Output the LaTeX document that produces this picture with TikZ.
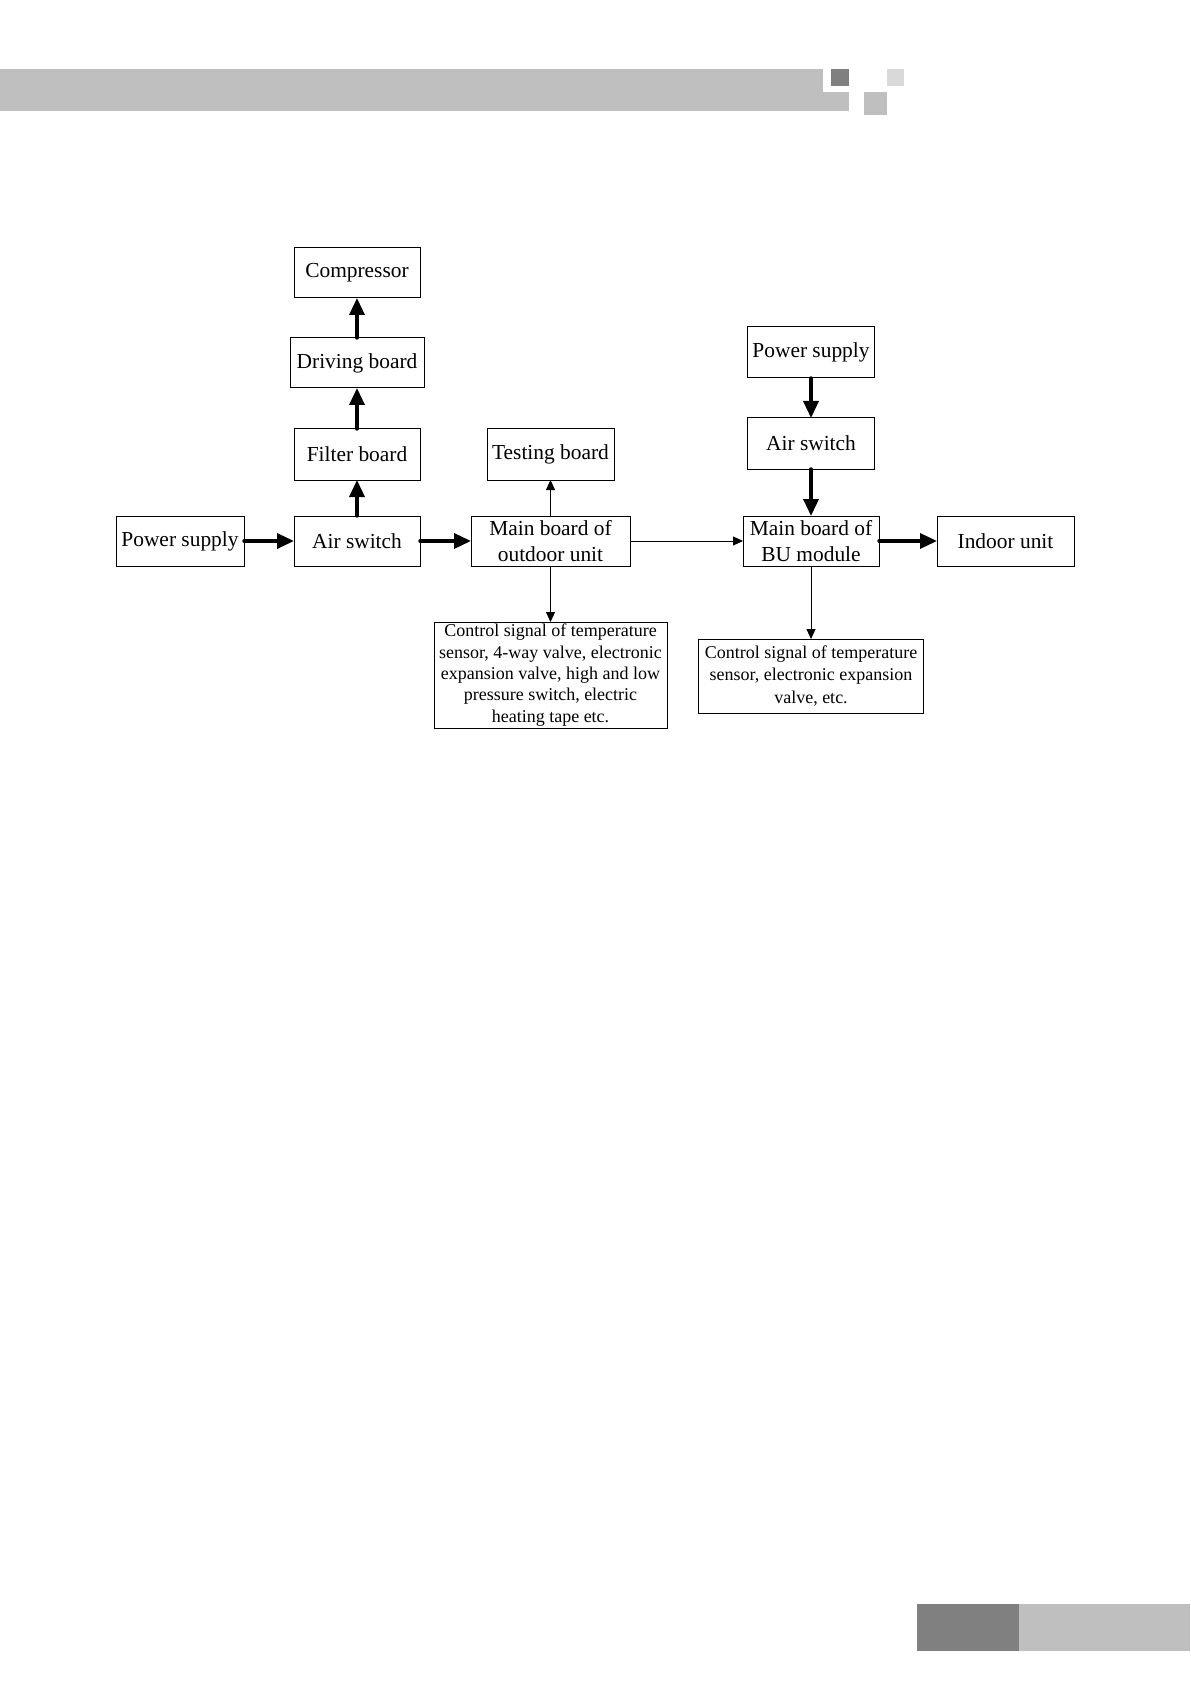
\documentclass[tikz,border=0pt]{standalone}
\usepackage{fontspec}
\setmainfont{Liberation Serif}
\usepackage{xcolor}
\usetikzlibrary{arrows.meta,positioning}
\definecolor{bargray}{HTML}{BFBFBF}
\definecolor{bardark}{HTML}{808080}
\definecolor{barlight}{HTML}{D9D9D9}

\begin{document}
\begin{tikzpicture}[x=0.5pt,y=-0.5pt,
    box/.style={draw,line width=0.5pt,inner sep=1pt,outer sep=0pt,minimum height=25pt,align=center,
      font=\fontsize{10.7}{12.9}\selectfont},
    ctrlbox/.style={draw,line width=0.5pt,inner sep=1pt,outer sep=0pt,align=center,
      font=\fontsize{9}{10.7}\selectfont},
    power/.style={line width=1.7pt,line cap=round,-{Triangle[length=8.5pt,width=7.5pt]}},
    signal/.style={line width=0.5pt,-{Triangle[length=5pt,width=4.5pt]}}]
  \useasboundingbox (0,0) rectangle (1190,1684);
  % page header and footer
  \fill[bargray] (0,69) rectangle (849,111);
  \fill[white] (823,69) rectangle (849,92);
  \fill[bardark] (831,69) rectangle (849,86);
  \fill[bargray] (864,92) rectangle (887,115);
  \fill[barlight] (887,69) rectangle (904,86);
  \fill[bardark] (917,1604) rectangle (1019,1651);
  \fill[bargray] (1019,1604) rectangle (1190,1651);

  % outdoor side
  \node[box,minimum width=64pt] (supply) at (180,541) {Power supply};
  \node[box,right=25pt of supply,minimum width=63pt] (air) {Air switch};
  \node[box,above=18pt of air,minimum width=63pt,minimum height=25.5pt] (filter) {Filter board};
  \node[box,above=20.5pt of filter,minimum width=67pt] (driving) {Driving board};
  \node[box,above=20pt of driving,minimum width=63pt] (comp) {Compressor};
  \node[box,right=25.5pt of air,minimum width=79.5pt] (outmain) {Main board of\\outdoor unit};
  \node[box,above=18pt of outmain,minimum width=63.5pt,minimum height=25.5pt] (testing) {Testing board};
  \node[ctrlbox,below=28pt of outmain,minimum width=116.5pt,minimum height=53pt] (outctrl)
    {Control signal of temperature\\sensor, 4-way valve, electronic\\expansion valve, high and low\\pressure switch, electric\\heating tape etc.};

  % BU module side
  \node[box,right=56.5pt of outmain,minimum width=68pt] (bumain) {Main board of\\BU module};
  \node[box,right=29pt of bumain,minimum width=68.5pt] (indoor) {Indoor unit};
  \node[box,above=23.5pt of bumain,minimum width=63.5pt,minimum height=25.5pt] (buair) {Air switch};
  \node[box,above=20pt of buair,minimum width=63.5pt,minimum height=25.5pt] (busupply) {Power supply};
  \node[ctrlbox,below=36.5pt of bumain,minimum width=112.5pt,minimum height=37pt,
    font=\fontsize{9}{11.2}\selectfont] (buctrl)
    {Control signal of temperature\\sensor, electronic expansion\\valve, etc.};

  \draw[power] (supply) -- (air);
  \draw[power] (air) -- (filter);
  \draw[power] (filter) -- (driving);
  \draw[power] (driving) -- (comp);
  \draw[power] (air) -- (outmain);
  \draw[power] (busupply) -- (buair);
  \draw[power] (buair) -- (bumain);
  \draw[power] (bumain) -- (indoor);
  \draw[signal] (outmain) -- (testing);
  \draw[signal] (outmain) -- (outctrl);
  \draw[signal] (outmain) -- (bumain);
  \draw[signal] (bumain) -- (buctrl);
\end{tikzpicture}
\end{document}
